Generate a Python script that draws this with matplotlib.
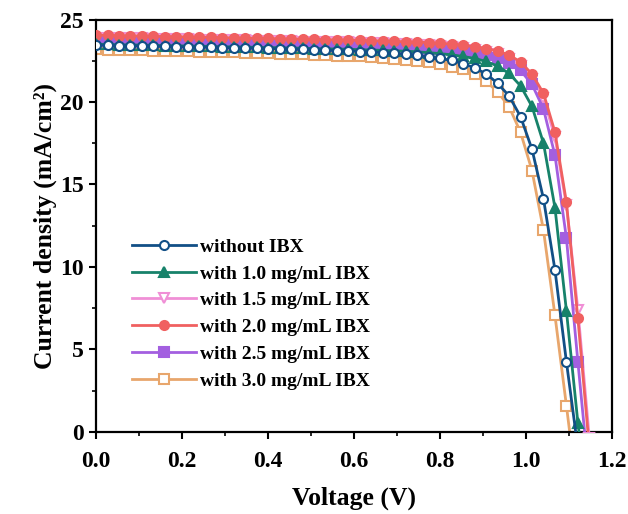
import matplotlib
matplotlib.use("Agg")
import matplotlib.pyplot as plt
from matplotlib.ticker import MultipleLocator

plt.rcParams['font.family'] = ['Liberation Serif', 'DejaVu Serif']
plt.rcParams['font.weight'] = 'bold'

voltage = [0.0, 0.0267, 0.0533, 0.08, 0.1067, 0.1333, 0.16, 0.1867, 0.2133, 0.24,
           0.2667, 0.2933, 0.32, 0.3467, 0.3733, 0.4, 0.4267, 0.4533, 0.48, 0.5067,
           0.5333, 0.56, 0.5867, 0.6133, 0.64, 0.6667, 0.6933, 0.72, 0.7467, 0.7733,
           0.8, 0.8267, 0.8533, 0.88, 0.9067, 0.9333, 0.96, 0.9867, 1.0133, 1.04,
           1.0667, 1.0933, 1.12, 1.1467]

j_without = [23.45, 23.44, 23.42, 23.41, 23.40, 23.38, 23.37, 23.36, 23.34, 23.33,
             23.32, 23.30, 23.29, 23.28, 23.26, 23.24, 23.23, 23.20, 23.19, 23.17,
             23.14, 23.12, 23.10, 23.06, 23.03, 23.00, 22.94, 22.89, 22.82, 22.73,
             22.64, 22.52, 22.33, 22.06, 21.71, 21.13, 20.37, 19.11, 17.14, 14.13,
             9.82, 4.25, -1.0]
j_10 = [23.50, 23.49, 23.47, 23.46, 23.45, 23.43, 23.42, 23.41, 23.39, 23.38,
        23.37, 23.35, 23.34, 23.33, 23.31, 23.30, 23.29, 23.27, 23.26, 23.24,
        23.22, 23.21, 23.20, 23.17, 23.15, 23.13, 23.10, 23.08, 23.04, 22.99,
        22.93, 22.86, 22.76, 22.64, 22.46, 22.18, 21.73, 20.98, 19.73, 17.50,
        13.59, 7.35, 0.54, -5.0]
j_15 = [23.90, 23.89, 23.87, 23.86, 23.85, 23.83, 23.82, 23.81, 23.79, 23.78,
        23.77, 23.75, 23.74, 23.73, 23.71, 23.70, 23.69, 23.67, 23.66, 23.65,
        23.63, 23.62, 23.61, 23.58, 23.57, 23.55, 23.52, 23.50, 23.47, 23.43,
        23.40, 23.34, 23.27, 23.17, 23.06, 22.89, 22.62, 22.18, 21.42, 20.23,
        17.87, 13.75, 7.40, -0.4]
j_20 = [24.05, 24.04, 24.02, 24.01, 24.00, 23.98, 23.97, 23.96, 23.94, 23.93,
        23.92, 23.90, 23.89, 23.88, 23.86, 23.85, 23.84, 23.82, 23.81, 23.80,
        23.78, 23.77, 23.76, 23.73, 23.72, 23.70, 23.68, 23.65, 23.63, 23.60,
        23.56, 23.51, 23.44, 23.35, 23.24, 23.09, 22.85, 22.43, 21.69, 20.53,
        18.17, 13.92, 6.89, -1.0]
j_25 = [23.70, 23.69, 23.67, 23.66, 23.65, 23.63, 23.62, 23.61, 23.59, 23.58,
        23.57, 23.55, 23.54, 23.53, 23.51, 23.50, 23.49, 23.47, 23.46, 23.45,
        23.43, 23.42, 23.41, 23.38, 23.37, 23.35, 23.32, 23.30, 23.28, 23.24,
        23.20, 23.15, 23.07, 22.97, 22.86, 22.68, 22.39, 21.91, 21.07, 19.58,
        16.77, 11.75, 4.24, -3.0]
j_30 = [23.20, 23.18, 23.17, 23.15, 23.14, 23.12, 23.10, 23.09, 23.07, 23.06,
        23.04, 23.02, 23.01, 22.99, 22.98, 22.95, 22.93, 22.91, 22.89, 22.87,
        22.84, 22.81, 22.79, 22.76, 22.73, 22.68, 22.62, 22.57, 22.49, 22.41,
        22.30, 22.15, 21.97, 21.67, 21.26, 20.61, 19.72, 18.16, 15.84, 12.23,
        7.06, 1.59, -4.0]

labels = ["without IBX", "with 1.0 mg/mL IBX", "with 1.5 mg/mL IBX",
          "with 2.0 mg/mL IBX", "with 2.5 mg/mL IBX", "with 3.0 mg/mL IBX"]
series = [j_without, j_10, j_15, j_20, j_25, j_30]
colors = ["#124f86", "#17826a", "#f08fd6", "#f06060", "#a35fe0", "#e8a66c"]
markers = ["o", "^", "v", "o", "s", "s"]
filled = [False, True, False, True, True, False]
zorders = [6, 5, 3, 4, 3.5, 2]

fig = plt.figure(figsize=(6.28, 5.14), dpi=100)
ax = fig.add_axes([0.153, 0.16, 0.822, 0.802])

for lab, j, c, m, f, z in zip(labels, series, colors, markers, filled, zorders):
    ax.plot(voltage[:len(j)], j, color=c, marker=m, markersize=6.5,
            markerfacecolor=(c if f else "white"), markeredgecolor=c,
            markeredgewidth=1.5, linewidth=2.0, label=lab, zorder=z)

ax.set_xlim(0, 1.2)
ax.set_ylim(0, 25)
ax.xaxis.set_major_locator(MultipleLocator(0.2))
ax.xaxis.set_minor_locator(MultipleLocator(0.1))
ax.yaxis.set_major_locator(MultipleLocator(5))
ax.yaxis.set_minor_locator(MultipleLocator(2.5))
ax.set_xticks([0, 0.2, 0.4, 0.6, 0.8, 1.0, 1.2])
ax.set_xticklabels(["0.0", "0.2", "0.4", "0.6", "0.8", "1.0", "1.2"])

for s in ax.spines.values():
    s.set_linewidth(1.6)
ax.tick_params(which='major', direction='out', length=5, width=1.5, labelsize=17)
ax.tick_params(axis='x', which='major', pad=9)
ax.tick_params(axis='y', which='major', pad=4)
ax.tick_params(which='minor', direction='out', length=3, width=1.2)
for t in ax.get_xticklabels() + ax.get_yticklabels():
    t.set_fontweight('bold')

ax.set_xlabel("Voltage (V)", fontsize=18.5, fontweight='bold', labelpad=10)
ax.set_ylabel("Current density (mA/cm\u00b2)", fontsize=18.5, fontweight='bold', labelpad=2)

leg = ax.legend(loc='lower left', bbox_to_anchor=(0.035, 0.06), frameon=False,
                handlelength=3.3, handletextpad=0.2, labelspacing=0.47,
                prop={'weight': 'bold', 'size': 14})

fig.savefig("out.png", dpi=100)
